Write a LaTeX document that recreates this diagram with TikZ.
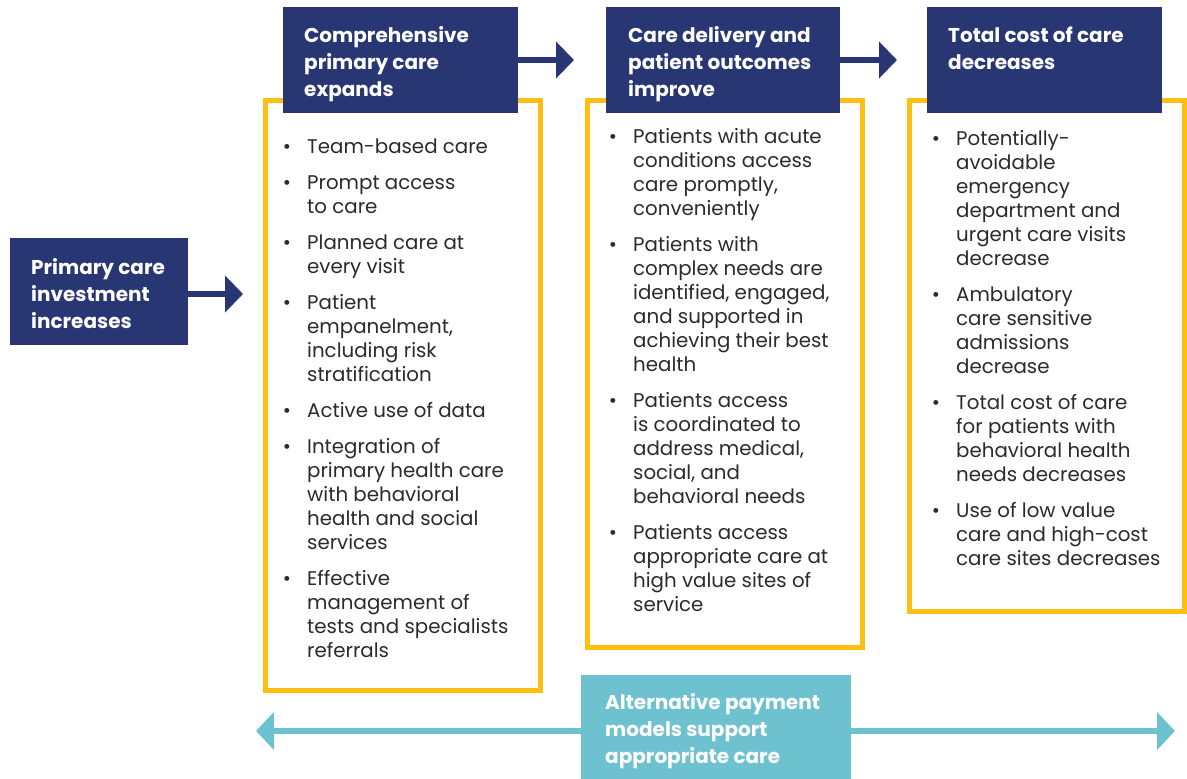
\documentclass[tikz,border=0pt]{standalone}
\usepackage{fontspec}
\setmainfont{Poppins}
\usetikzlibrary{arrows.meta}
\definecolor{navy}{HTML}{283673}
\definecolor{gold}{HTML}{FDBF12}
\definecolor{aqua}{HTML}{6EC1CE}
\definecolor{ink}{HTML}{2B2B2B}
\tikzset{
  panel/.style={draw=gold, line width=5pt, fill=white, anchor=north west, inner sep=0pt},
  head/.style={fill=navy, anchor=north west, inner sep=0pt},
  headtxt/.style={text=white, font=\bfseries\fontsize{20}{27}\selectfont, anchor=base west, inner sep=0pt},
  itemtxt/.style={text=ink, font=\fontsize{19.8}{24}\selectfont, anchor=base west, inner sep=0pt},
  dot/.style={text=ink, font=\fontsize{19.8}{24}\selectfont, anchor=base, inner sep=0pt},
  flow/.style={draw=navy, line width=6pt, -{Triangle[length=18pt,width=36pt]}},
  span/.style={draw=aqua, line width=6pt, -{Triangle[length=18pt,width=37pt]}}
}
% lines stacked downwards from the baseline of the first one
\newcommand{\stackdown}[1]{\begin{tabular}[t]{@{}l@{}}#1\end{tabular}}
% one bullet point: name, x of text, baseline y of first line, text
\newcommand{\bulletline}[4]{%
  \node[dot] (#1-dot) at (#2-20,#3) {\textbullet};
  \node[itemtxt] (#1) at (#2,#3) {\stackdown{#4}};
}
\begin{document}
\begin{tikzpicture}[x=1pt, y=-1pt]
\useasboundingbox (0,0) rectangle (1187,779);

% yellow panels
\node[panel, minimum width=275pt, minimum height=590pt] (p1) at (262.5,97.5) {};
\node[panel, minimum width=275pt, minimum height=547pt] (p2) at (584.5,97.5) {};
\node[panel, minimum width=275pt, minimum height=511pt] (p3) at (906.5,97.5) {};

% navy headers
\node[head, minimum width=178pt, minimum height=107pt] (h0) at (10,238) {};
\node[headtxt] (h0t) at (31,274) {\stackdown{Primary care\\investment\\increases}};

\node[head, minimum width=235pt, minimum height=106pt] (h1) at (283,7) {};
\node[headtxt] (h1t) at (304,42) {\stackdown{Comprehensive\\primary care\\expands}};

\node[head, minimum width=234pt, minimum height=106pt] (h2) at (606,7) {};
\node[headtxt] (h2t) at (628,42) {\stackdown{Care delivery and\\patient outcomes\\improve}};

\node[head, minimum width=235pt, minimum height=106pt] (h3) at (927,7) {};
\node[headtxt] (h3t) at (948,42) {\stackdown{Total cost of care\\decreases}};

% flow arrows
\coordinate (a0) at (243,294);
\coordinate (a1) at (574,60);
\coordinate (a2) at (897,60);
\draw[flow] (h0.east |- a0) -- (a0);
\draw[flow] (h1.east |- a1) -- (a1);
\draw[flow] (h2.east |- a2) -- (a2);

% payment models box and span arrows
\node[fill=aqua, anchor=north west, inner sep=0pt, minimum width=270pt, minimum height=104pt] (pm) at (581,675) {};
\node[headtxt] (pmt) at (605,709) {\stackdown{Alternative payment\\models support\\appropriate care}};
\coordinate (sl) at (256,731);
\coordinate (sr) at (1175,731);
\draw[span] (pm.west |- sl) -- (sl);
\draw[span] (pm.east |- sr) -- (sr);

% column 1
\bulletline{c1a}{307}{153}{Team-based care}
\bulletline{c1b}{307}{189}{Prompt access\\to care}
\bulletline{c1c}{307}{249}{Planned care at\\every visit}
\bulletline{c1d}{307}{309}{Patient\\empanelment,\\including risk\\stratification}
\bulletline{c1e}{307}{417}{Active use of data}
\bulletline{c1f}{307}{453}{Integration of\\primary health care\\with behavioral\\health and social\\services}
\bulletline{c1g}{307}{585}{Effective\\management of\\tests and specialists\\referrals}

% column 2
\bulletline{c2a}{633}{143}{Patients with acute\\conditions access\\care promptly,\\conveniently}
\bulletline{c2b}{633}{251}{Patients with\\complex needs are\\identified, engaged,\\and supported in\\achieving their best\\health}
\bulletline{c2c}{633}{407}{Patients access\\is coordinated to\\address medical,\\social, and\\behavioral needs}
\bulletline{c2d}{633}{539}{Patients access\\appropriate care at\\high value sites of\\service}

% column 3
\bulletline{c3a}{956}{145}{Potentially-\\avoidable\\emergency\\department and\\urgent care visits\\decrease}
\bulletline{c3b}{956}{301}{Ambulatory\\care sensitive\\admissions\\decrease}
\bulletline{c3c}{956}{409}{Total cost of care\\for patients with\\behavioral health\\needs decreases}
\bulletline{c3d}{956}{517}{Use of low value\\care and high-cost\\care sites decreases}
\end{tikzpicture}
\end{document}
